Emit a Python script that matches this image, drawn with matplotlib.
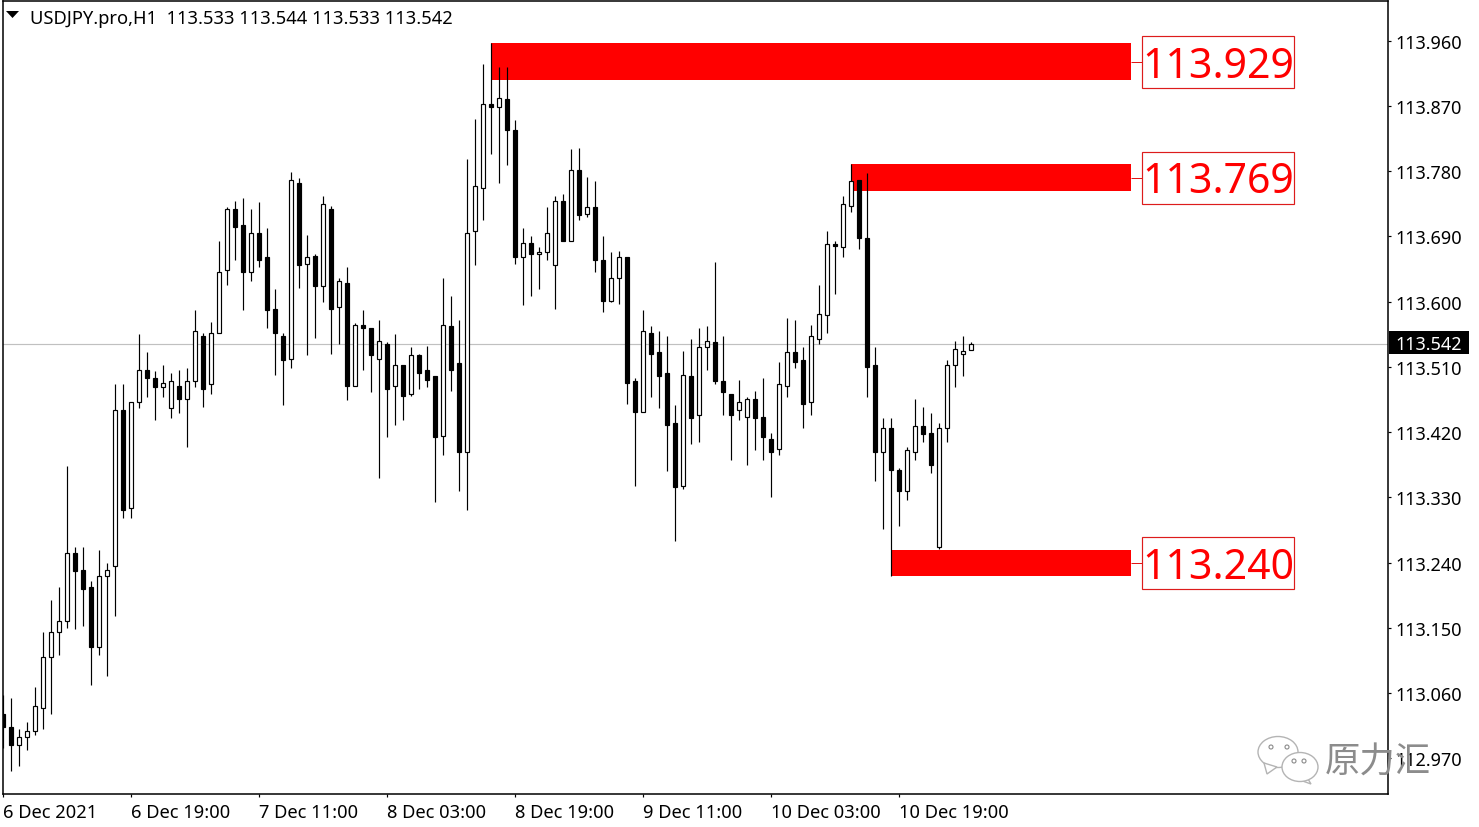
import numpy as np
import matplotlib
matplotlib.use("Agg")
import matplotlib.pyplot as plt
from matplotlib.patches import Rectangle, Ellipse, Polygon

W, H = 1479, 828
FONT = "Noto Sans"

opens = [113.031, 113.014, 112.989, 113.000, 113.008, 113.040, 113.110, 113.145, 113.159, 113.253,
	113.230, 113.206, 113.124, 113.222, 113.235, 113.450, 113.315, 113.462, 113.505, 113.495,
	113.482, 113.453, 113.483, 113.466, 113.490, 113.552, 113.486, 113.556, 113.644, 113.727,
	113.706, 113.641, 113.695, 113.662, 113.590, 113.553, 113.521, 113.764, 113.652, 113.663,
	113.621, 113.727, 113.592, 113.625, 113.484, 113.568, 113.564, 113.521, 113.542, 113.483,
	113.513, 113.472, 113.527, 113.505, 113.497, 113.414, 113.567, 113.515, 113.392, 113.697,
	113.757, 113.873, 113.868, 113.880, 113.837, 113.661, 113.681, 113.665, 113.668, 113.651,
	113.739, 113.684, 113.781, 113.721, 113.731, 113.658, 113.601, 113.632, 113.662, 113.490,
	113.448, 113.557, 113.530, 113.501, 113.432, 113.346, 113.498, 113.444, 113.537, 113.544,
	113.491, 113.472, 113.451, 113.441, 113.466, 113.441, 113.411, 113.397, 113.483, 113.531,
	113.519, 113.462, 113.549, 113.582, 113.680, 113.675, 113.732, 113.767, 113.688, 113.512,
	113.392, 113.425, 113.368, 113.339, 113.393, 113.428, 113.419, 113.261, 113.426, 113.513,
	113.528, 113.533]
highs = [113.058, 113.053, 113.010, 113.020, 113.068, 113.144, 113.188, 113.206, 113.373, 113.262,
	113.261, 113.214, 113.257, 113.239, 113.486, 113.487, 113.462, 113.555, 113.530, 113.504,
	113.513, 113.501, 113.506, 113.509, 113.589, 113.556, 113.572, 113.683, 113.731, 113.738,
	113.743, 113.727, 113.737, 113.702, 113.617, 113.556, 113.779, 113.771, 113.692, 113.666,
	113.745, 113.732, 113.632, 113.647, 113.570, 113.589, 113.564, 113.574, 113.544, 113.555,
	113.513, 113.537, 113.528, 113.539, 113.497, 113.632, 113.607, 113.574, 113.796, 113.852,
	113.928, 113.956, 113.924, 113.923, 113.851, 113.702, 113.690, 113.675, 113.731, 113.745,
	113.748, 113.810, 113.812, 113.772, 113.766, 113.690, 113.669, 113.670, 113.662, 113.495,
	113.588, 113.567, 113.559, 113.552, 113.457, 113.532, 113.549, 113.563, 113.566, 113.654,
	113.552, 113.472, 113.492, 113.469, 113.476, 113.494, 113.419, 113.517, 113.577, 113.574,
	113.538, 113.568, 113.623, 113.698, 113.683, 113.745, 113.790, 113.767, 113.777, 113.538,
	113.440, 113.439, 113.371, 113.399, 113.465, 113.455, 113.446, 113.432, 113.519, 113.545,
	113.553, 113.544]
lows = [112.985, 112.953, 112.960, 112.982, 113.003, 113.011, 113.031, 113.113, 113.150, 113.149,
	113.153, 113.071, 113.112, 113.084, 113.167, 113.302, 113.302, 113.453, 113.468, 113.437,
	113.468, 113.440, 113.446, 113.399, 113.482, 113.455, 113.472, 113.556, 113.623, 113.657,
	113.588, 113.628, 113.648, 113.563, 113.499, 113.457, 113.509, 113.619, 113.526, 113.550,
	113.600, 113.528, 113.542, 113.464, 113.484, 113.505, 113.475, 113.357, 113.413, 113.430,
	113.437, 113.470, 113.480, 113.482, 113.324, 113.388, 113.477, 113.339, 113.313, 113.650,
	113.713, 113.803, 113.763, 113.789, 113.652, 113.595, 113.608, 113.617, 113.658, 113.590,
	113.683, 113.683, 113.712, 113.717, 113.641, 113.585, 113.599, 113.597, 113.459, 113.346,
	113.448, 113.468, 113.453, 113.367, 113.270, 113.342, 113.404, 113.407, 113.506, 113.487,
	113.444, 113.381, 113.437, 113.375, 113.396, 113.381, 113.331, 113.389, 113.468, 113.509,
	113.426, 113.444, 113.542, 113.556, 113.610, 113.661, 113.723, 113.673, 113.468, 113.353,
	113.287, 113.222, 113.291, 113.327, 113.382, 113.407, 113.363, 113.259, 113.406, 113.482,
	113.497, 113.533]
closes = [113.014, 112.989, 112.999, 113.008, 113.042, 113.110, 113.145, 113.160, 113.253, 113.229,
	113.204, 113.123, 113.221, 113.230, 113.450, 113.313, 113.461, 113.505, 113.495, 113.482,
	113.488, 113.491, 113.466, 113.490, 113.559, 113.480, 113.556, 113.641, 113.727, 113.703,
	113.641, 113.694, 113.658, 113.589, 113.557, 113.520, 113.767, 113.650, 113.662, 113.621,
	113.734, 113.590, 113.629, 113.484, 113.568, 113.564, 113.526, 113.545, 113.480, 113.512,
	113.470, 113.526, 113.501, 113.492, 113.413, 113.568, 113.506, 113.392, 113.695, 113.760,
	113.872, 113.868, 113.881, 113.836, 113.661, 113.681, 113.666, 113.669, 113.695, 113.738,
	113.683, 113.782, 113.719, 113.731, 113.657, 113.601, 113.632, 113.661, 113.488, 113.448,
	113.559, 113.528, 113.498, 113.430, 113.344, 113.499, 113.439, 113.538, 113.545, 113.491,
	113.475, 113.443, 113.461, 113.465, 113.440, 113.413, 113.392, 113.487, 113.531, 113.516,
	113.459, 113.552, 113.583, 113.680, 113.676, 113.734, 113.766, 113.688, 113.510, 113.392,
	113.425, 113.368, 113.339, 113.395, 113.428, 113.417, 113.375, 113.426, 113.513, 113.534,
	113.532, 113.542]

y_ticks = [113.960, 113.870, 113.780, 113.690, 113.600, 113.510, 113.420, 113.330, 113.240, 113.150, 113.060, 112.970]
x_tick_bars = [0, 16, 32, 48, 64, 80, 96, 112]
x_tick_labels = ["6 Dec 2021", "6 Dec 19:00", "7 Dec 11:00", "8 Dec 03:00", "8 Dec 19:00",
	"9 Dec 11:00", "10 Dec 03:00", "10 Dec 19:00"]

# red zones, left edge starts on the swing bar
zone_start = [61, 106, 111]
zone_top = [113.956, 113.790, 113.258]
zone_bottom = [113.905, 113.752, 113.222]
zone_labels = ["113.929", "113.769", "113.240"]
zone_end = 141
last_price = 113.542
header = "USDJPY.pro,H1  113.533 113.544 113.533 113.542"


def draw_candles(ax):
	xs = np.arange(len(opens))
	o, h, l, c = map(np.array, (opens, highs, lows, closes))
	ax.vlines(xs, l, h, color="black", lw=0.85, zorder=3)
	faces = ["white" if cc >= oo else "black" for oo, cc in zip(o, c)]
	ax.bar(xs, np.abs(c - o), bottom=np.minimum(o, c), width=0.5, facecolor=faces,
		edgecolor="black", lw=0.85, zorder=4)


def draw_zones(ax):
	for start, top, bottom, label in zip(zone_start, zone_top, zone_bottom, zone_labels):
		ax.add_patch(Rectangle((start, bottom), zone_end - start, top - bottom, facecolor="#ff0000",
			edgecolor="none", zorder=2))
		mid = (top + bottom) / 2
		ax.hlines(mid, zone_end, 142.4, color="#e01010", lw=0.7, zorder=2)
		ax.add_patch(Rectangle((142.4, mid - 0.0359), 19, 0.0718, facecolor="white",
			edgecolor="#dd1c1c", lw=0.85, zorder=2))
		ax.text(151.9, mid + 0.0015, label, color="#ff0000", fontsize=29.5, family=FONT,
			ha="center", va="center_baseline", zorder=5)


def draw_watermark(over):
	edge = "#b4b4b4"
	over.add_patch(Ellipse((1278, 753), 40, 31, facecolor="white", edgecolor=edge, lw=1))
	over.add_patch(Polygon([[1264, 764], [1267, 775], [1277, 768]], facecolor="white", edgecolor=edge, lw=1))
	over.add_patch(Polygon([[1305, 775], [1311, 785], [1297, 780]], facecolor="white", edgecolor=edge, lw=1))
	over.add_patch(Ellipse((1300, 768), 36, 29, facecolor="white", edgecolor=edge, lw=1))
	for x, y, r in [(1271, 748, 4), (1287, 748, 4), (1294, 762, 4), (1304, 762, 4)]:
		over.add_patch(Ellipse((x, y), r, r, facecolor="white", edgecolor="#8a8a8a", lw=0.8))
	over.text(1377.5, 763, "原力汇", family="Noto Sans CJK SC", fontsize=25.5, color="#8c8c8c",
		ha="center", va="center", fontweight="light")


fig = plt.figure(figsize=(W / 100, H / 100), dpi=100, facecolor="white")
ax = fig.add_axes([2.5 / W, 1 - 795 / H, 1385 / W, 793 / H])

px_per_unit = 725.2
ax.set_xlim(-0.06, 173.06)
ax.set_ylim(113.960 - 753.5 / px_per_unit, 113.960 + 39.5 / px_per_unit)

ax.axhline(last_price, color="#c0c0c0", lw=0.85, zorder=1)
draw_zones(ax)
draw_candles(ax)

ax.yaxis.tick_right()
ax.set_yticks(y_ticks)
ax.set_yticklabels([f"{v:.3f}" for v in y_ticks], family=FONT, fontsize=13)
ax.set_xticks(x_tick_bars)
ax.set_xticklabels(x_tick_labels, family=FONT, fontsize=13.2, ha="left")
ax.tick_params(axis="both", length=2.5, width=0.85, color="black")
ax.tick_params(axis="y", pad=3.5)
ax.tick_params(axis="x", pad=4)
for s in ax.spines.values():
	s.set_linewidth(1.1)

# everything outside the price scale goes on a pixel overlay
over = fig.add_axes([0, 0, 1, 1], facecolor="none")
over.set_xlim(0, W)
over.set_ylim(H, 0)
over.axis("off")
over.add_patch(Polygon([[6, 12], [19, 12], [12.5, 19]], facecolor="black", edgecolor="none"))
over.text(30, 19, header, family=FONT, fontsize=13.2, color="black", va="center", ha="left")
over.add_patch(Rectangle((1389, 332), 80, 23, facecolor="black", edgecolor="none"))
over.text(1429, 345.5, f"{last_price:.3f}", family=FONT, fontsize=13, color="white", va="center", ha="center")
draw_watermark(over)

fig.savefig("out.png", dpi=100, facecolor="white")
